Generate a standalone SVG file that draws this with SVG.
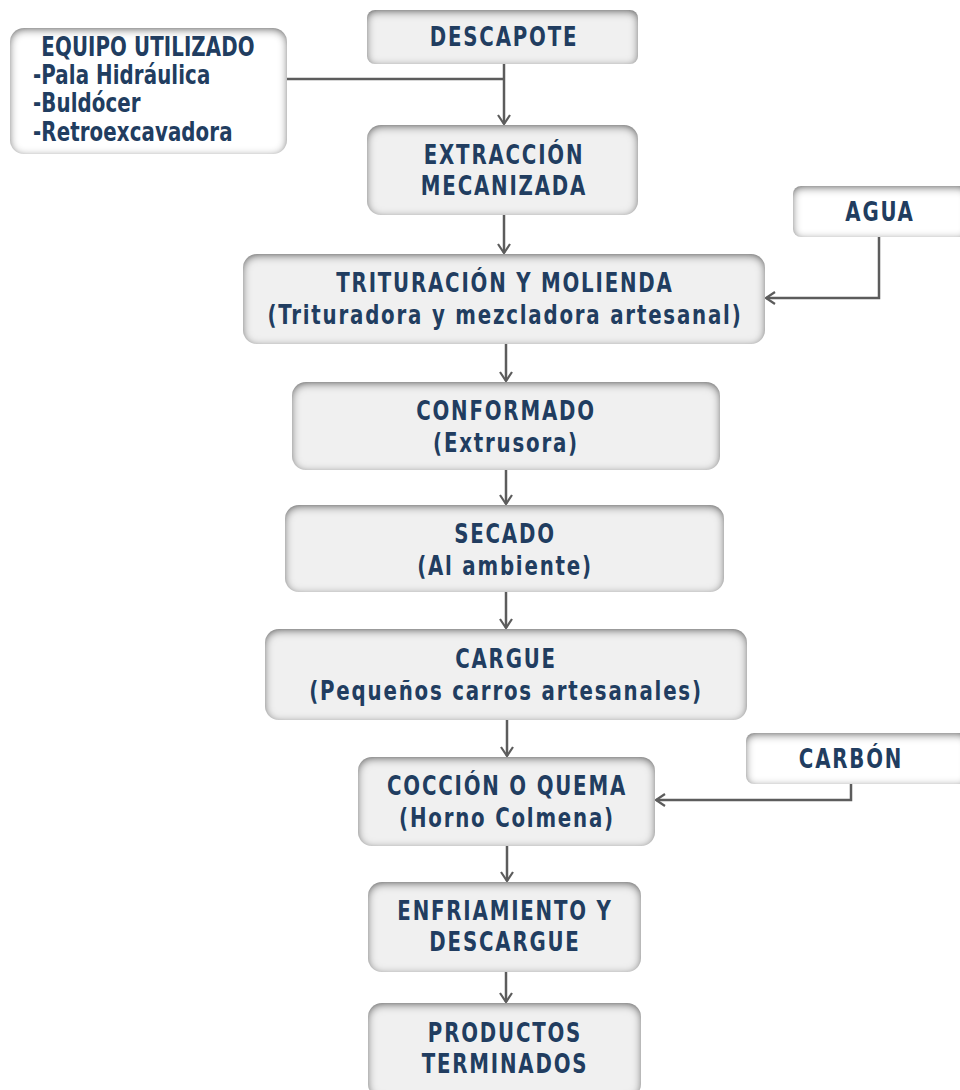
<svg xmlns="http://www.w3.org/2000/svg" width="960" height="1090" viewBox="0 0 960 1090">
<style>
.box{fill:#f0f0f0;filter:url(#bevel)}
.side{fill:#ffffff;filter:url(#bevel)}
.t{font-family:"DejaVu Sans",sans-serif;font-stretch:condensed;font-weight:bold;font-size:22px;fill:#213d60;text-anchor:middle;letter-spacing:1.8px}
.e{letter-spacing:0.1px}
.l{text-anchor:start}
.c{fill:none;stroke:#5c5c5c;stroke-width:2.5}
</style>
<defs>
<filter id="bevel" x="-10%" y="-20%" width="120%" height="140%">
<feFlood flood-color="#262626" result="f"/>
<feComposite in="f" in2="SourceAlpha" operator="out" result="outside"/>
<feOffset in="outside" dy="1.5" result="off"/>
<feGaussianBlur in="off" stdDeviation="4.5" result="blur"/>
<feComposite in="blur" in2="SourceAlpha" operator="in" result="inner"/>
<feMerge><feMergeNode in="SourceGraphic"/><feMergeNode in="inner"/></feMerge>
</filter>
<marker id="arr" viewBox="-10 -8 12 16" refX="0" refY="0" markerWidth="12" markerHeight="16" markerUnits="userSpaceOnUse" orient="auto">
<path d="M-9,-6 L0,0 L-9,6" fill="none" stroke="#5c5c5c" stroke-width="2.2"/>
</marker>
</defs>
<g id="connectors">
<path class="c" d="M504,64 V124" marker-end="url(#arr)"/>
<path class="c" d="M287,79 H504"/>
<path class="c" d="M504,215 V253" marker-end="url(#arr)"/>
<path class="c" d="M879,237 V298 H766" marker-end="url(#arr)"/>
<path class="c" d="M506,344 V381" marker-end="url(#arr)"/>
<path class="c" d="M506,470 V504" marker-end="url(#arr)"/>
<path class="c" d="M506,592 V628" marker-end="url(#arr)"/>
<path class="c" d="M507,720 V756" marker-end="url(#arr)"/>
<path class="c" d="M851,784 V800 H656" marker-end="url(#arr)"/>
<path class="c" d="M507,846 V881" marker-end="url(#arr)"/>
<path class="c" d="M506,972 V1002" marker-end="url(#arr)"/>
</g>
<g id="equipo">
<rect class="side" x="10" y="28" width="277" height="126" rx="14"/>
<text class="t e" transform="translate(148,56) scale(1,1.18)">EQUIPO UTILIZADO</text>
<text class="t e l" transform="translate(33,84) scale(1,1.18)">-Pala Hidráulica</text>
<text class="t e l" transform="translate(33,112) scale(1,1.18)">-Buldócer</text>
<text class="t e l" transform="translate(33,141) scale(1,1.18)">-Retroexcavadora</text>
</g>
<g id="descapote">
<rect class="box" x="367" y="10" width="271" height="54" rx="8"/>
<text class="t" transform="translate(504,46) scale(1,1.18)">DESCAPOTE</text>
</g>
<g id="extraccion">
<rect class="box" x="367" y="125" width="271" height="90" rx="14"/>
<text class="t" transform="translate(504,164) scale(1,1.18)">EXTRACCIÓN</text>
<text class="t" transform="translate(504,195) scale(1,1.18)">MECANIZADA</text>
</g>
<g id="agua">
<rect class="side" x="793" y="186" width="175" height="51" rx="8"/>
<text class="t" transform="translate(880,221) scale(1,1.18)">AGUA</text>
</g>
<g id="trituracion">
<rect class="box" x="243" y="254" width="522" height="90" rx="14"/>
<text class="t" transform="translate(505,292) scale(1,1.18)">TRITURACIÓN Y MOLIENDA</text>
<text class="t" transform="translate(505,324) scale(1,1.18)">(Trituradora y mezcladora artesanal)</text>
</g>
<g id="conformado">
<rect class="box" x="292" y="382" width="428" height="88" rx="14"/>
<text class="t" transform="translate(506,420) scale(1,1.18)">CONFORMADO</text>
<text class="t" transform="translate(506,452) scale(1,1.18)">(Extrusora)</text>
</g>
<g id="secado">
<rect class="box" x="285" y="505" width="439" height="87" rx="14"/>
<text class="t" transform="translate(505,543) scale(1,1.18)">SECADO</text>
<text class="t" transform="translate(505,575) scale(1,1.18)">(Al ambiente)</text>
</g>
<g id="cargue">
<rect class="box" x="265" y="629" width="482" height="91" rx="14"/>
<text class="t" transform="translate(506,668) scale(1,1.18)">CARGUE</text>
<text class="t" transform="translate(506,700) scale(1,1.18)">(Pequeños carros artesanales)</text>
</g>
<g id="carbon">
<rect class="side" x="746" y="733" width="222" height="51" rx="8"/>
<text class="t" transform="translate(851,768) scale(1,1.18)">CARBÓN</text>
</g>
<g id="coccion">
<rect class="box" x="358" y="757" width="297" height="89" rx="14"/>
<text class="t" transform="translate(507,795) scale(1,1.18)">COCCIÓN O QUEMA</text>
<text class="t" transform="translate(507,827) scale(1,1.18)">(Horno Colmena)</text>
</g>
<g id="enfriamiento">
<rect class="box" x="368" y="882" width="273" height="90" rx="14"/>
<text class="t" transform="translate(505,920) scale(1,1.18)">ENFRIAMIENTO Y</text>
<text class="t" transform="translate(505,951) scale(1,1.18)">DESCARGUE</text>
</g>
<g id="productos">
<rect class="box" x="368" y="1003" width="273" height="95" rx="14"/>
<text class="t" transform="translate(505,1042) scale(1,1.18)">PRODUCTOS</text>
<text class="t" transform="translate(505,1073) scale(1,1.18)">TERMINADOS</text>
</g>
</svg>
